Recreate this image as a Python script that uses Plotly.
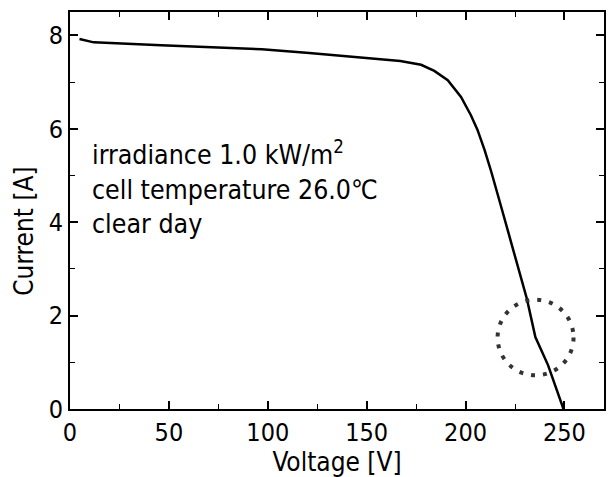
import plotly.graph_objects as go

voltage = [4.8, 12, 46, 97, 121, 157, 167, 177.5, 184.2, 191, 197.7, 202.7, 206, 209.6, 213, 218, 224, 231, 235.3, 241.7, 249.5]
current = [7.92, 7.85, 7.79, 7.70, 7.62, 7.48, 7.45, 7.37, 7.24, 7.04, 6.68, 6.29, 5.98, 5.55, 5.08, 4.33, 3.42, 2.36, 1.54, 0.94, 0.0]

x_ticks = [0, 50, 100, 150, 200, 250]
y_ticks = [0, 2, 4, 6, 8]

note_text = "irradiance 1.0 kW/m<sup>2</sup><br>cell temperature 26.0℃<br>clear day"

FONT = "DejaVu Sans Condensed, Liberation Sans Narrow, Noto Sans CJK JP, Arial"

fig = go.Figure()
fig.add_trace(go.Scatter(x=voltage, y=current, mode="lines",
                         line=dict(color="black", width=2.5), showlegend=False))

axis_common = dict(showline=True, linecolor="black", linewidth=2, mirror="allticks",
                   ticks="inside", ticklen=8, tickwidth=1.5, tickcolor="black",
                   showgrid=False, zeroline=False,
                   tickfont=dict(family=FONT, size=25, color="black"))

fig.update_xaxes(range=[0, 270], tickvals=x_ticks,
                 minor=dict(dtick=25, ticks="inside", ticklen=5, tickwidth=1.2, tickcolor="black"),
                 title=dict(text="Voltage [V]", font=dict(family=FONT, size=26, color="black"), standoff=2),
                 **axis_common)
fig.update_yaxes(range=[0, 8.5], tickvals=y_ticks,
                 minor=dict(dtick=1, ticks="inside", ticklen=5, tickwidth=1.2, tickcolor="black"),
                 **axis_common)

fig.add_annotation(xref="paper", yref="paper", x=-0.085, y=0.448, textangle=-90,
                   text="Current [A]", showarrow=False, xanchor="center", yanchor="middle",
                   font=dict(family=FONT, size=26, color="black"))

# dotted circle highlighting the kink
fig.add_shape(type="circle", xref="x", yref="y", x0=216.2, x1=254.6, y0=0.72, y1=2.34,
              line=dict(color="#333", width=4, dash="4px,8px"))

fig.add_annotation(xref="x", yref="y", x=10, y=4.75, xanchor="left", yanchor="middle",
                   align="left", showarrow=False, text=note_text,
                   font=dict(family=FONT, size=26.5, color="black"))

fig.update_layout(width=611, height=477, margin=dict(l=70, r=5, t=12, b=68),
                  plot_bgcolor="white", paper_bgcolor="white")

fig.write_html("out.html", config={"displayModeBar": False},
               post_script="document.body.style.margin='0px';")
